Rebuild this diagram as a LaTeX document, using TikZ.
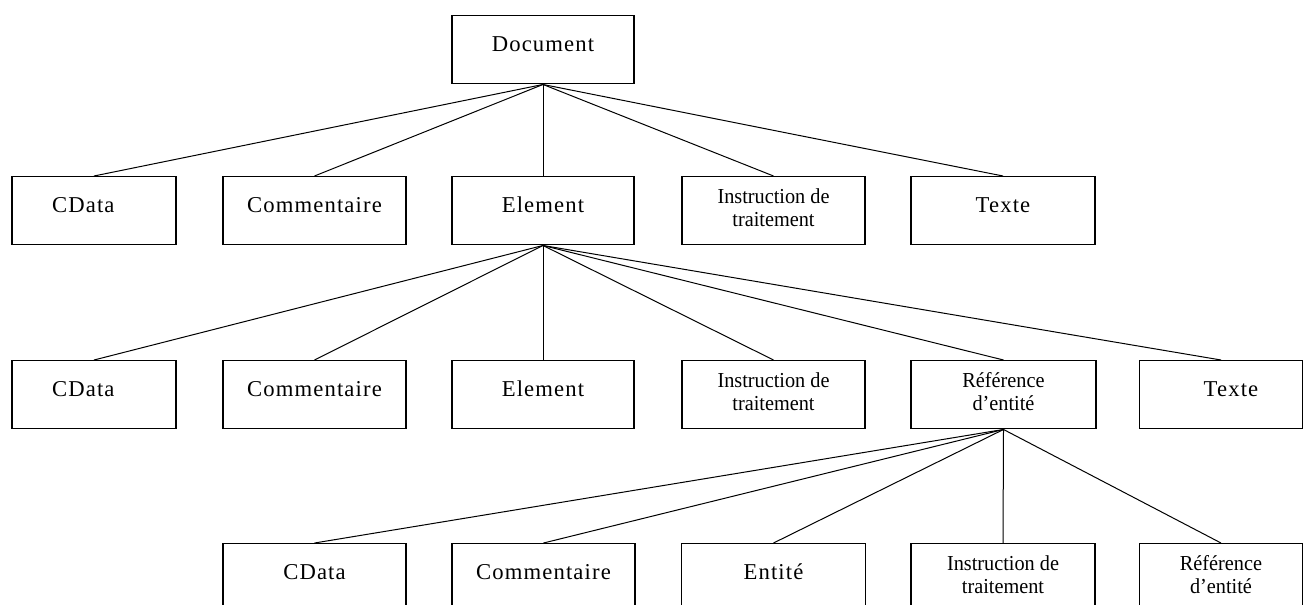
\documentclass[tikz,border=0pt]{standalone}
\usepackage{fontspec}
\setmainfont{Liberation Serif}
\newfontfamily\spacedfont[LetterSpace=5]{Liberation Serif}
\newfontfamily\narrowfont[FakeStretch=0.95]{Liberation Serif}
\begin{document}
\begin{tikzpicture}[x=0.75pt,y=-0.75pt,
  bx/.style={draw, line width=1.1pt, inner sep=0pt, minimum height=51pt, minimum width=#1, anchor=north},
  one/.style={label={[font=\spacedfont\fontsize{17}{20}\selectfont, yshift=4.5pt]center:#1}},
  onex/.style 2 args={label={[font=\spacedfont\fontsize{17}{20}\selectfont, yshift=4.5pt, xshift=#2]center:#1}},
  two/.style={label={[align=center, font=\narrowfont\fontsize{16}{17.25}\selectfont, yshift=2.6pt]center:#1}},
  conn/.style={line width=0.75pt}]
\useasboundingbox (0,0) rectangle (1306,604);
\clip (0,0) rectangle (1306,604);
\fill[white] (0,0) rectangle (1306,604);
% level 0
\node[bx=136.5pt, one=Document] (doc) at (543,15) {};
% level 1
\node[bx=123pt, onex={CData}{-8pt}] (c1) at (94,176) {};
\node[bx=137.25pt, one=Commentaire] (m1) at (314.5,176) {};
\node[bx=136.5pt, one=Element] (e1) at (543,176) {};
\node[bx=137.25pt, two={Instruction de\\traitement}] (i1) at (773.5,176) {};
\node[bx=138pt, one=Texte] (t1) at (1003,176) {};
% level 2
\node[bx=123pt, onex={CData}{-8pt}] (c2) at (94,360) {};
\node[bx=137.25pt, one=Commentaire] (m2) at (314.5,360) {};
\node[bx=136.5pt, one=Element] (e2) at (543,360) {};
\node[bx=137.25pt, two={Instruction de\\traitement}] (i2) at (773.5,360) {};
\node[bx=138.75pt, two={Référence\\d’entité}] (r2) at (1003.5,360) {};
\node[bx=122.25pt, onex={Texte}{7.5pt}] (t2) at (1221,360) {};
% level 3
\node[bx=137.25pt, one=CData] (c3) at (314.5,543) {};
\node[bx=137.25pt, one=Commentaire] (m3) at (543.5,543) {};
\node[bx=138pt, one=Entité] (n3) at (773.5,543) {};
\node[bx=138pt, two={Instruction de\\traitement}] (i3) at (1003,543) {};
\node[bx=122.25pt, two={Référence\\d’entité}] (f3) at (1221,543) {};
% connectors
\foreach \c in {c1,m1,e1,i1,t1} \draw[conn] (\c.north) -- (doc.south);
\foreach \c in {c2,m2,e2,i2,r2,t2} \draw[conn] (\c.north) -- (e1.south);
\foreach \c in {c3,m3,n3,i3,f3} \draw[conn] (\c.north) -- (r2.south);
\end{tikzpicture}
\end{document}
